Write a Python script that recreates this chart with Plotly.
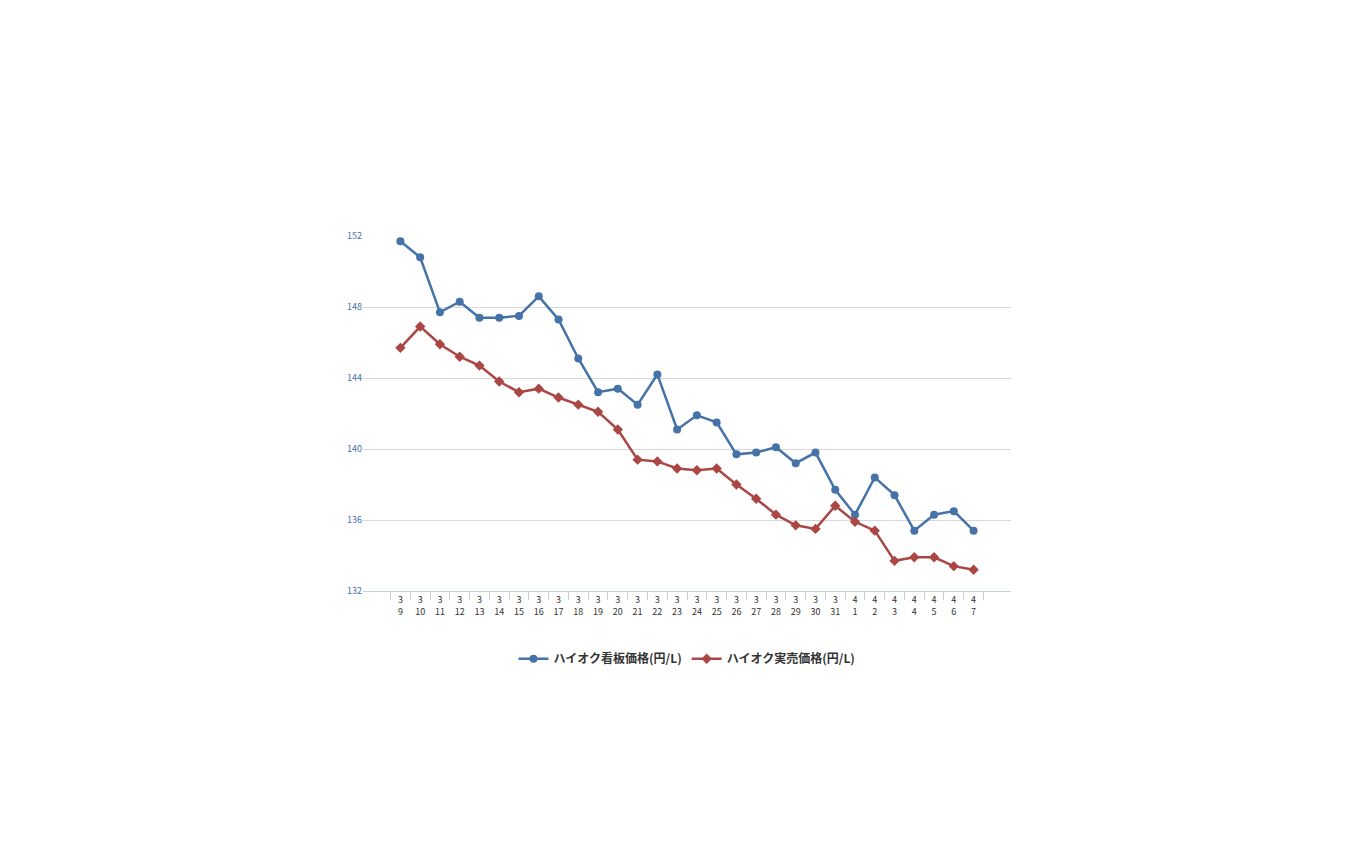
import plotly.graph_objects as go

months = [3] * 23 + [4] * 7
days = list(range(9, 32)) + list(range(1, 8))
labels = [f"{m}<br>{d}" for m, d in zip(months, days)]

board_price = [151.7, 150.8, 147.7, 148.3, 147.4, 147.4, 147.5, 148.6, 147.3, 145.1,
               143.2, 143.4, 142.5, 144.2, 141.1, 141.9, 141.5, 139.7, 139.8, 140.1,
               139.2, 139.8, 137.7, 136.3, 138.4, 137.4, 135.4, 136.3, 136.5, 135.4]
actual_price = [145.7, 146.9, 145.9, 145.2, 144.7, 143.8, 143.2, 143.4, 142.9, 142.5,
                142.1, 141.1, 139.4, 139.3, 138.9, 138.8, 138.9, 138.0, 137.2, 136.3,
                135.7, 135.5, 136.8, 135.9, 135.4, 133.7, 133.9, 133.9, 133.4, 133.2]

fig = go.Figure()
fig.add_trace(go.Scatter(
    x=labels, y=board_price, mode="lines+markers", name="<b>ハイオク看板価格(円/L)</b>",
    line=dict(color="#4572a7", width=2.5), marker=dict(symbol="circle", size=8),
))
fig.add_trace(go.Scatter(
    x=labels, y=actual_price, mode="lines+markers", name="<b>ハイオク実売価格(円/L)</b>",
    line=dict(color="#aa4643", width=2.5), marker=dict(symbol="diamond", size=8),
))

fig.update_layout(
    width=1350, height=844,
    margin=dict(l=355, r=347, t=228, b=261),
    plot_bgcolor="white", paper_bgcolor="white",
    font=dict(family="Noto Sans CJK JP, sans-serif", size=10, color="#333333"),
    legend=dict(orientation="h", x=0.5, xanchor="center", y=-0.15, yanchor="top",
                font=dict(size=12, color="#333333")),
)
fig.update_xaxes(
    type="category", showgrid=False, showline=True, linecolor="#c0d0e0",
    ticks="outside", ticklen=8, tickcolor="#c0d0e0", tickson="boundaries",
    tickfont=dict(size=9), automargin=False,
)
fig.update_yaxes(
    range=[132, 152], dtick=4, showgrid=True, gridcolor="#d8d8d8",
    zeroline=False, tickfont=dict(size=9, color="#4572a7"), ticks="",
    automargin=False,
)

fig.write_html("out.html")
